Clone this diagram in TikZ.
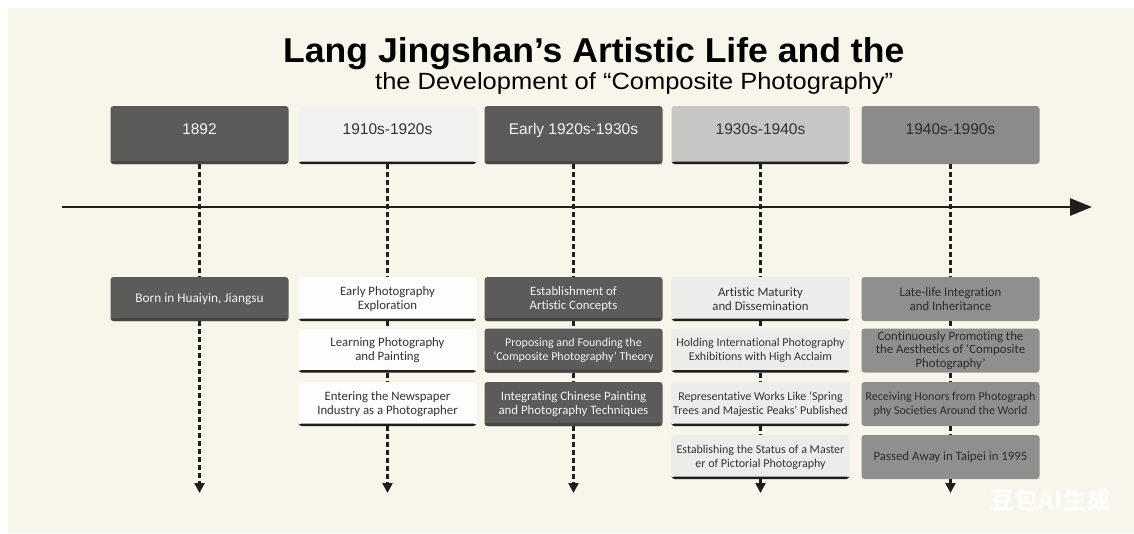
\documentclass[tikz,border=0pt]{standalone}
\usepackage{fontspec}
\usepackage{graphicx}
\setmainfont{Liberation Sans}
\newfontfamily\bodyfont[Ligatures=NoCommon]{Carlito}
\newfontfamily\cjkfont{Noto Sans CJK SC}
\usetikzlibrary{arrows.meta}

\definecolor{paper}{HTML}{F8F5EB}
\definecolor{ink}{HTML}{1E1E1E}
\definecolor{darkbox}{HTML}{5B5B59}
\definecolor{darkedge}{HTML}{464644}
\definecolor{paletop}{HTML}{F1F1EF}
\definecolor{palebox}{HTML}{FDFDFC}
\definecolor{silvertop}{HTML}{C6C6C4}
\definecolor{silverbox}{HTML}{ECECEA}
\definecolor{greytop}{HTML}{8B8B89}
\definecolor{greybox}{HTML}{8F8F8D}
\definecolor{lighttext}{HTML}{F3F3F1}
\definecolor{darktext}{HTML}{333333}
\definecolor{greytext}{HTML}{2C2C2C}

\tikzset{
  box/.style={minimum width=178pt, inner sep=2pt, rounded corners=3pt, align=center},
  hdr/.style={box, minimum height=58pt, font=\fontsize{15.5}{18}\selectfont,
    text height=11pt, text depth=13pt},
  item/.style={box, minimum height=44pt,
    font=\bodyfont\fontsize{12.8}{14.2}\selectfont},
  snug/.style={font=\bodyfont\fontsize{12}{14.2}\selectfont},
  darkfill/.style={fill=darkbox, text=lighttext,
    path picture={\fill[darkedge] ([yshift=3pt]path picture bounding box.south west)
      rectangle (path picture bounding box.south east);}},
  rule/.style={text=darktext,
    path picture={\fill[ink] ([yshift=2.4pt]path picture bounding box.south west)
      rectangle (path picture bounding box.south east);}},
  palefill/.style={rule, fill=palebox},
  paletopfill/.style={rule, fill=paletop},
  silverfill/.style={rule, fill=silverbox},
  silvertopfill/.style={rule, fill=silvertop},
  greyfill/.style={fill=greybox, text=greytext},
  greytopfill/.style={fill=greytop, text=greytext},
  link/.style={draw=ink, line width=2.3pt, dash pattern=on 5pt off 3pt},
  linkend/.style={link, -{Triangle[length=10pt,width=10pt]}},
}

\begin{document}
\begin{tikzpicture}[x=1pt,y=-1pt]
% page and paper
\fill[white] (0,0) rectangle (1134,533);
\fill[paper] (8,8) rectangle (1134,533);
\useasboundingbox (0,0) rectangle (1134,533);

% title
\node[anchor=base west, inner sep=0] (title) at (283,62)
  {\resizebox{621pt}{25pt}{\bfseries Lang Jingshan’s Artistic Life and the}};
\node[anchor=base west, inner sep=0] (subtitle) at (375,89)
  {\resizebox{518pt}{17pt}{the Development of “Composite Photography”}};

% main time axis
\coordinate (axisL) at (62,207);
\coordinate (axisR) at (1092,207);
\draw[ink, line width=2.8pt, -{Triangle[length=22pt,width=17pt]}] (axisL) -- (axisR);

% period headers
\node[hdr, darkfill]      (h1) at (199.5,135) {1892};
\node[hdr, paletopfill]   (h2) at (387.5,135) {1910s-1920s};
\node[hdr, darkfill]      (h3) at (573.5,135) {Early 1920s-1930s};
\node[hdr, silvertopfill] (h4) at (760.5,135) {1930s-1940s};
\node[hdr, greytopfill]   (h5) at (950.5,135) {1940s-1990s};

% column 1
\node[item, darkfill, font=\bodyfont\fontsize{13.3}{14.2}\selectfont] (a1) at (199.5,299) {Born in Huaiyin, Jiangsu};
% column 2
\node[item, palefill] (b1) at (387.5,299) {Early Photography\\Exploration};
\node[item, palefill] (b2) at (387.5,350.5) {Learning Photography\\and Painting};
\node[item, palefill] (b3) at (387.5,404) {Entering the Newspaper\\Industry as a Photographer};
% column 3
\node[item, darkfill] (c1) at (573.5,299) {Establishment of\\Artistic Concepts};
\node[item, darkfill, snug] (c2) at (573.5,350.5) {Proposing and Founding the\\‘Composite Photography’ Theory};
\node[item, darkfill] (c3) at (573.5,404) {Integrating Chinese Painting\\and Photography Techniques};
% column 4
\node[item, silverfill] (d1) at (760.5,299) {Artistic Maturity\\and Dissemination};
\node[item, silverfill, snug] (d2) at (760.5,350.5) {Holding International Photography\\Exhibitions with High Acclaim};
\node[item, silverfill, snug] (d3) at (760.5,404) {Representative Works Like ‘Spring\\Trees and Majestic Peaks’ Published};
\node[item, silverfill, snug] (d4) at (760.5,457) {Establishing the Status of a Master\\er of Pictorial Photography};
% column 5
\node[item, greyfill, font=\bodyfont\fontsize{12.8}{13.2}\selectfont] (e1) at (950.5,299) {Late-life Integration\\and Inheritance};
\node[item, greyfill, font=\bodyfont\fontsize{12.8}{13.2}\selectfont] (e2) at (950.5,350.5)
  {Continuously Promoting the\\the Aesthetics of ‘Composite\\Photography’};
\node[item, greyfill, snug] (e3) at (950.5,404) {Receiving Honors from Photograph\\phy Societies Around the World};
\node[item, greyfill] (e4) at (950.5,457) {Passed Away in Taipei in 1995};

% open ends of the dashed guides
\coordinate (endA) at (199.5,493);
\coordinate (endB) at (387.5,493);
\coordinate (endC) at (573.5,493);
\coordinate (endD) at (760.5,493);
\coordinate (endE) at (950.5,493);

% dashed guides
\draw[link] (h1) -- (a1);
\draw[linkend] (a1) -- (endA);
\draw[link] (h2) -- (b1);
\draw[link] (b1) -- (b2);
\draw[link] (b2) -- (b3);
\draw[linkend] (b3) -- (endB);
\draw[link] (h3) -- (c1);
\draw[link] (c1) -- (c2);
\draw[link] (c2) -- (c3);
\draw[linkend] (c3) -- (endC);
\draw[link] (h4) -- (d1);
\draw[link] (d1) -- (d2);
\draw[link] (d2) -- (d3);
\draw[link] (d3) -- (d4);
\draw[linkend] (d4) -- (endD);
\draw[link] (h5) -- (e1);
\draw[link] (e1) -- (e2);
\draw[link] (e2) -- (e3);
\draw[link] (e3) -- (e4);
\draw[linkend] (e4) -- (endE);

% generator mark
\node[text=white, opacity=0.9, font=\cjkfont\bfseries\fontsize{24}{24}\selectfont] (mark) at (1051,500) {豆包AI生成};
\end{tikzpicture}
\end{document}
